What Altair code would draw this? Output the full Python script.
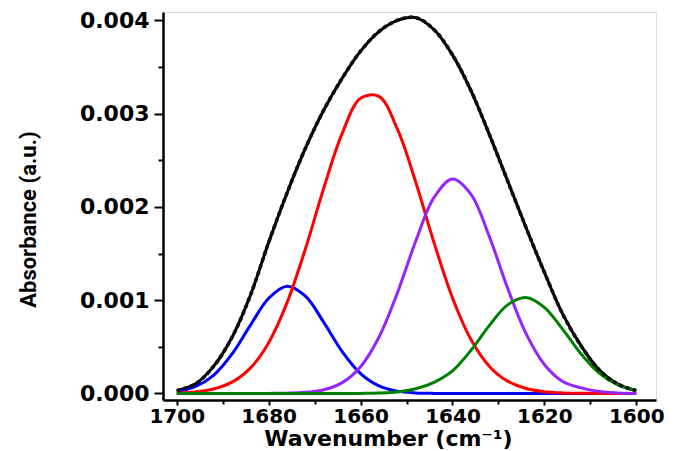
import altair as alt
import pandas as pd

# Wavenumber grid (cm^-1)
wavenumber = [1700, 1696, 1692, 1688, 1684, 1680, 1676, 1672, 1668, 1664, 1660, 1656, 1652,
              1648, 1644, 1640, 1636, 1632, 1628, 1624, 1620, 1616, 1612, 1608, 1604, 1600]

total = [0.00003, 0.0001, 0.00029, 0.0006, 0.00105, 0.00162, 0.00215, 0.00263, 0.00304, 0.00338,
         0.00367, 0.00388, 0.004, 0.00403, 0.0039, 0.00363, 0.00325, 0.00278, 0.00228, 0.00178,
         0.0013, 0.00085, 0.00051, 0.00025, 0.0001, 0.00003]
blue = [0.000022, 0.000073, 0.000195, 0.000421, 0.00073, 0.001021, 0.00115, 0.001043, 0.000762,
        0.000449, 0.000213, 0.000081, 0.000025, 0.000006, 0.000001, 0, 0, 0, 0, 0, 0, 0, 0, 0, 0, 0]
red = [0.000005, 0.000017, 0.000048, 0.000121, 0.000272, 0.000545, 0.000974, 0.001551, 0.002203,
       0.002788, 0.003165, 0.003185, 0.002836, 0.002267, 0.001615, 0.001026, 0.000581, 0.000293,
       0.000132, 0.000053, 0.000019, 0.000006, 0.000002, 0.000001, 0, 0]
purple = [0, 0, 0, 0, 0, 0.000001, 0.000003, 0.000012, 0.00004, 0.000116, 0.000287, 0.000603,
          0.001076, 0.001632, 0.002102, 0.0023, 0.002137, 0.001686, 0.00113, 0.000644, 0.000311,
          0.000128, 0.00006, 0.00002, 0.000006, 0.000001]
green = [0, 0, 0, 0, 0, 0, 0, 0, 0, 0, 0.000001, 0.000004, 0.000015, 0.00005, 0.00012, 0.000242,
         0.00046, 0.000727, 0.00095, 0.00103, 0.000924, 0.000687, 0.000423, 0.000216, 0.000091,
         0.000032]

series_names = ["Data", "Fit", "Band 1", "Band 2", "Band 3", "Band 4"]
series_colors = ["#000000", "#111111", "#0000ff", "#ff0000", "#9326ff", "#008000"]

x_ticks = [1700, 1690, 1680, 1670, 1660, 1650, 1640, 1630, 1620, 1610, 1600]
y_ticks = [0, 0.0005, 0.001, 0.0015, 0.002, 0.0025, 0.003, 0.0035, 0.004]

rows = []
for name, vals, order in [("Data", total, 0), ("Band 1", blue, 1), ("Band 2", red, 2),
                          ("Band 3", purple, 3), ("Band 4", green, 4), ("Fit", total, 5)]:
    for w, v in zip(wavenumber, vals):
        rows.append({"w": w, "a": v, "series": name, "order": order})
df = pd.DataFrame(rows)

x_scale = alt.Scale(domain=[1595.7, 1703], reverse=True, nice=False, zero=False)
y_scale = alt.Scale(domain=[-0.00007, 0.00409], nice=False, zero=False)

x_axis = alt.Axis(
    values=x_ticks,
    labelExpr="datum.value % 20 === 0 ? datum.value : ''",
    tickSize={"condition": {"test": "datum.value % 20 === 0", "value": 5}, "value": 4},
    tickWidth=2, tickColor="black", domainColor="black", domainWidth=2.5,
    labelFont="DejaVu Sans", labelFontWeight="bold", labelFontSize=20, labelColor="black",
    labelPadding=1, grid=False,
    title="Wavenumber (cm\u207b\u00b9)",
    titleFont="DejaVu Sans", titleFontWeight="bold", titleFontSize=22, titleColor="black",
    titleX=225, titleY=45, titleAnchor="middle", titleAlign="center", titleBaseline="alphabetic",
)

major_y = "abs(datum.value*1000 - round(datum.value*1000)) < 1e-6"
y_axis = alt.Axis(
    values=y_ticks,
    labelExpr=major_y + " ? format(datum.value, '.3f') : ''",
    tickSize={"condition": {"test": major_y, "value": 9}, "value": 5},
    tickWidth=2, tickColor="black", domainColor="black", domainWidth=2.5,
    labelFont="DejaVu Sans", labelFontWeight="bold", labelFontSize=22, labelColor="black",
    labelPadding=5, grid=False,
    title="Absorbance (a.u.)",
    titleFont="Roboto",
    titleFontWeight="bold", titleFontSize=22, titleColor="black",
    titleX=-135, titleY=207, titleAngle=270, titleAlign="center", titleBaseline="middle",
)

base = alt.Chart(df).encode(
    x=alt.X("w:Q", scale=x_scale, axis=x_axis),
    y=alt.Y("a:Q", scale=y_scale, axis=y_axis),
    color=alt.Color("series:N", scale=alt.Scale(domain=series_names, range=series_colors), legend=None),
    order=alt.Order("order:Q"),
)

solid = base.transform_filter(alt.datum.series != "Fit").mark_line(
    interpolate="catmull-rom", strokeWidth=3
)
dashed = base.transform_filter(alt.datum.series == "Fit").mark_line(
    interpolate="catmull-rom", strokeWidth=3.6, strokeDash=[4, 3]
)

chart = alt.layer(solid, dashed).properties(
    width=493, height=388,
    autosize=alt.AutoSizeParams(type="none"),
    padding={"left": 155, "top": 4, "right": 10, "bottom": 51},
).configure_view(strokeOpacity=0).configure(background="white")

chart.save("out.html", embed_options={"renderer": "svg", "actions": False})
